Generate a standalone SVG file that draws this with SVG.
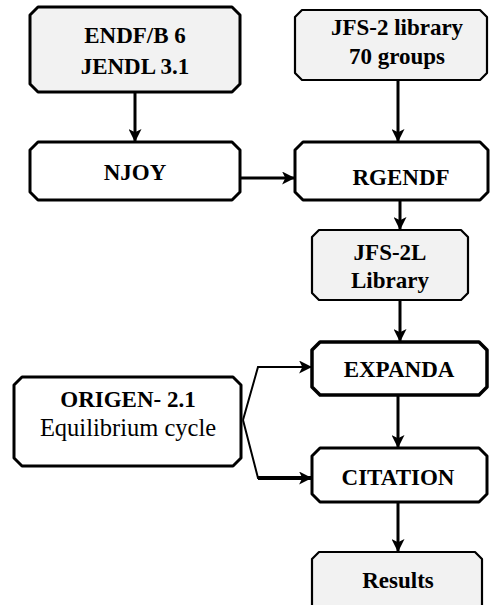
<svg xmlns="http://www.w3.org/2000/svg" width="493" height="605" viewBox="0 0 493 605">
<style>
.box{fill:#fff;stroke:#000;stroke-width:3;stroke-linejoin:round}
.gray{fill:#f2f2f2;stroke-width:2.2}
text{font-family:'Liberation Serif','DejaVu Serif',serif;font-weight:bold;font-size:23px;text-anchor:middle;fill:#000}
.r{font-weight:normal;font-size:24.5px}
.c{fill:none;stroke:#000;stroke-width:3}
</style>
<defs>
<marker id="ah" viewBox="0 0 12 12" refX="11" refY="6" markerWidth="13" markerHeight="13" markerUnits="userSpaceOnUse" orient="auto">
<path d="M0,0 L12,6 L0,12 L3,6 z" fill="#000"/>
</marker>
</defs>
<g id="connectors">
<line class="c" x1="135" y1="92" x2="135" y2="141" marker-end="url(#ah)"/>
<line class="c" x1="398" y1="80" x2="398" y2="141" marker-end="url(#ah)"/>
<line class="c" x1="240" y1="178" x2="294" y2="178" marker-end="url(#ah)"/>
<line class="c" x1="400" y1="200" x2="400" y2="229" marker-end="url(#ah)"/>
<line class="c" x1="400" y1="300" x2="400" y2="341" marker-end="url(#ah)"/>
<line class="c" x1="398" y1="395" x2="398" y2="447" marker-end="url(#ah)"/>
<line class="c" x1="398" y1="502" x2="398" y2="551" marker-end="url(#ah)"/>
<polyline class="c" style="stroke-width:2" points="243,420 258,367 311,367" marker-end="url(#ah)"/>
<polyline class="c" style="stroke-width:2" points="243,420 258,478 270,478"/>
<line class="c" style="stroke-width:4" x1="258" y1="478" x2="311" y2="478" marker-end="url(#ah)"/>
</g>
<g id="endf">
<path class="box gray" style="stroke-width:3" d="M38,7 H232 L240,15 V84 L232,92 H38 L30,84 V15 Z"/>
<text x="135" y="43">ENDF/B 6</text>
<text x="135" y="74">JENDL  3.1</text>
</g>
<g id="jfs2">
<path class="box gray" d="M302,10 H480 L487,17 V73 L480,80 H302 L295,73 V17 Z"/>
<text x="397" y="35">JFS-2 library</text>
<text x="397" y="64">70 groups</text>
</g>
<g id="njoy">
<path class="box" d="M38,142 H232 L240,150 V192 L232,200 H38 L30,192 V150 Z"/>
<text x="135" y="180">NJOY</text>
</g>
<g id="rgendf">
<path class="box" d="M303,142 H480 L488,150 V192 L480,200 H303 L295,192 V150 Z"/>
<text x="401" y="185">RGENDF</text>
</g>
<g id="jfs2l">
<path class="box gray" d="M319,230 H461 L468,237 V293 L461,300 H319 L312,293 V237 Z"/>
<text x="390" y="260">JFS-2L</text>
<text x="390" y="288">Library</text>
</g>
<g id="expanda">
<path class="box" style="stroke-width:3.5" d="M320,342 H479 L487,350 V387 L479,395 H320 L312,387 V350 Z"/>
<text x="399" y="377">EXPANDA</text>
</g>
<g id="origen">
<path class="box" d="M22,377 H233 L241,385 V458 L233,466 H22 L14,458 V385 Z"/>
<text x="128" y="407">ORIGEN- 2.1</text>
<text class="r" x="128" y="436">Equilibrium cycle</text>
</g>
<g id="citation">
<path class="box" d="M320,448 H479 L487,456 V494 L479,502 H320 L312,494 V456 Z"/>
<text x="398" y="485">CITATION</text>
</g>
<g id="results">
<path class="box gray" d="M319,552 H475 L482,559 V620 H312 V559 Z"/>
<text x="398" y="588">Results</text>
</g>
</svg>
